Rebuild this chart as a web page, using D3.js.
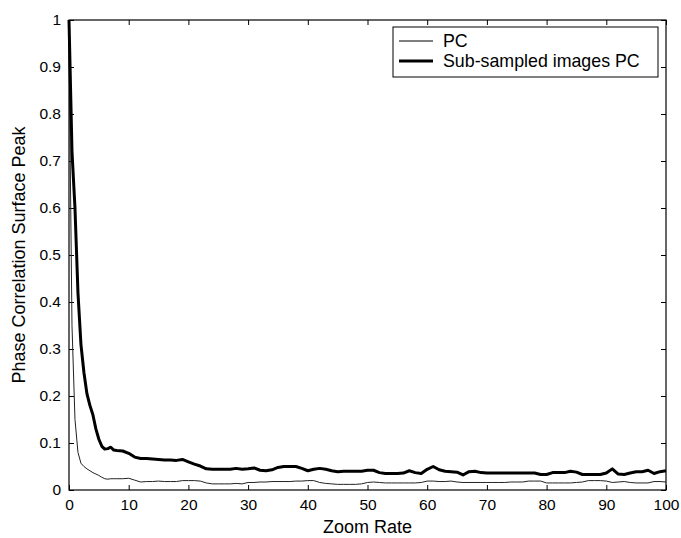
<!DOCTYPE html>
<html><head><meta charset="utf-8">
<script src="https://cdn.jsdelivr.net/npm/d3@7"></script>
<style>body{margin:0;background:#fff}text{font-family:Arial,"Liberation Sans",sans-serif}</style>
</head><body><svg id="c" width="681" height="538"></svg>
<script>
const xs = [0,0.5,1,1.5,2,2.5,3,3.5,4,4.5,5,5.5,6,6.5,7,7.5,8,9,10,11,12,13,14,15,16,17,18,19,20,21,22,23,24,25,26,27,28,29,30,31,32,33,34,35,36,37,38,39,40,41,42,43,44,45,46,47,48,49,50,51,52,53,54,55,56,57,58,59,60,61,62,63,64,65,66,67,68,69,70,71,72,73,74,75,76,77,78,79,80,81,82,83,84,85,86,87,88,89,90,91,92,93,94,95,96,97,98,99,100];
const subPC = [1.0,0.72,0.6,0.42,0.31,0.25,0.205,0.18,0.16,0.13,0.108,0.093,0.087,0.088,0.091,0.085,0.084,0.083,0.078,0.07,0.067,0.067,0.066,0.065,0.064,0.064,0.063,0.065,0.06,0.055,0.051,0.045,0.044,0.044,0.044,0.044,0.046,0.044,0.045,0.047,0.042,0.041,0.043,0.048,0.05,0.05,0.05,0.046,0.041,0.044,0.046,0.044,0.041,0.039,0.04,0.04,0.04,0.04,0.042,0.042,0.037,0.035,0.035,0.035,0.036,0.041,0.037,0.035,0.044,0.05,0.043,0.04,0.039,0.038,0.032,0.039,0.04,0.037,0.036,0.036,0.036,0.036,0.036,0.036,0.036,0.036,0.036,0.033,0.033,0.037,0.037,0.037,0.04,0.038,0.033,0.033,0.033,0.033,0.036,0.045,0.034,0.033,0.036,0.039,0.039,0.042,0.035,0.039,0.041];
const pc = [0.95,0.35,0.15,0.08,0.057,0.05,0.045,0.041,0.037,0.034,0.031,0.027,0.024,0.023,0.024,0.024,0.024,0.024,0.025,0.021,0.017,0.018,0.018,0.019,0.018,0.018,0.018,0.02,0.02,0.02,0.019,0.015,0.013,0.013,0.013,0.013,0.014,0.013,0.016,0.016,0.017,0.017,0.018,0.018,0.018,0.018,0.019,0.019,0.02,0.02,0.016,0.014,0.013,0.012,0.012,0.012,0.012,0.013,0.016,0.017,0.016,0.015,0.015,0.015,0.015,0.015,0.015,0.016,0.019,0.019,0.018,0.018,0.019,0.017,0.016,0.016,0.016,0.016,0.016,0.016,0.016,0.016,0.017,0.017,0.017,0.019,0.019,0.019,0.015,0.015,0.015,0.015,0.015,0.016,0.017,0.02,0.02,0.02,0.019,0.016,0.017,0.018,0.016,0.015,0.015,0.015,0.018,0.018,0.017];
const xTicks = [0,10,20,30,40,50,60,70,80,90,100];
const yTicks = [0,0.1,0.2,0.3,0.4,0.5,0.6,0.7,0.8,0.9,1];
const seriesNames = ["PC","Sub-sampled images PC"];

const L=69,R=666,T=20,B=490;
const svg=d3.select("#c");
const x=d3.scaleLinear().domain([0,100]).range([L,R]);
const y=d3.scaleLinear().domain([0,1]).range([B,T]);

const fmt=d=>String(d);
const ax=[
  [d3.axisBottom(x).tickValues(xTicks).tickFormat(fmt).tickSizeInner(-5).tickSizeOuter(0).tickPadding(9),`translate(0,${B})`],
  [d3.axisTop(x).tickValues(xTicks).tickFormat("").tickSizeInner(-5).tickSizeOuter(0),`translate(0,${T})`],
  [d3.axisLeft(y).tickValues(yTicks).tickFormat(fmt).tickSizeInner(-5).tickSizeOuter(0).tickPadding(8),`translate(${L},0)`],
  [d3.axisRight(y).tickValues(yTicks).tickFormat("").tickSizeInner(-5).tickSizeOuter(0),`translate(${R},0)`]
];
ax.forEach(([a,t])=>{
  const g=svg.append("g").attr("transform",t).call(a);
  g.select(".domain").remove();
  g.selectAll("line").attr("stroke","#000");
  g.selectAll("text").attr("fill","#000").style("font-size","15.5px").style("font-family","Arial, 'Liberation Sans', sans-serif");
});
svg.append("rect").attr("x",L).attr("y",T).attr("width",R-L).attr("height",B-T).attr("fill","none").attr("stroke","#000").attr("stroke-width",1.2);

const line=d3.line().x((d,i)=>x(xs[i])).y(d=>y(d));
svg.append("path").datum(pc).attr("d",line).attr("fill","none").attr("stroke","#222").attr("stroke-width",1);
svg.append("path").datum(subPC).attr("d",line).attr("fill","none").attr("stroke","#000").attr("stroke-width",3).attr("stroke-linejoin","round");

svg.append("text").attr("x",(L+R)/2).attr("y",533).attr("text-anchor","middle").style("font-size","18px").text("Zoom Rate");
svg.append("text").attr("transform",`translate(25,${(T+B)/2}) rotate(-90)`).attr("text-anchor","middle").style("font-size","18px").text("Phase Correlation Surface Peak");

const lg=svg.append("g");
lg.append("rect").attr("x",393).attr("y",27).attr("width",265).attr("height",50).attr("fill","#fff").attr("stroke","#000").attr("stroke-width",1);
seriesNames.forEach((n,i)=>{
  const yy=41+i*20;
  lg.append("line").attr("x1",399).attr("x2",433).attr("y1",yy).attr("y2",yy).attr("stroke","#000").attr("stroke-width",i?3:1);
  lg.append("text").attr("x",443).attr("y",yy+6).style("font-size","17.8px").text(n);
});
</script></body></html>
